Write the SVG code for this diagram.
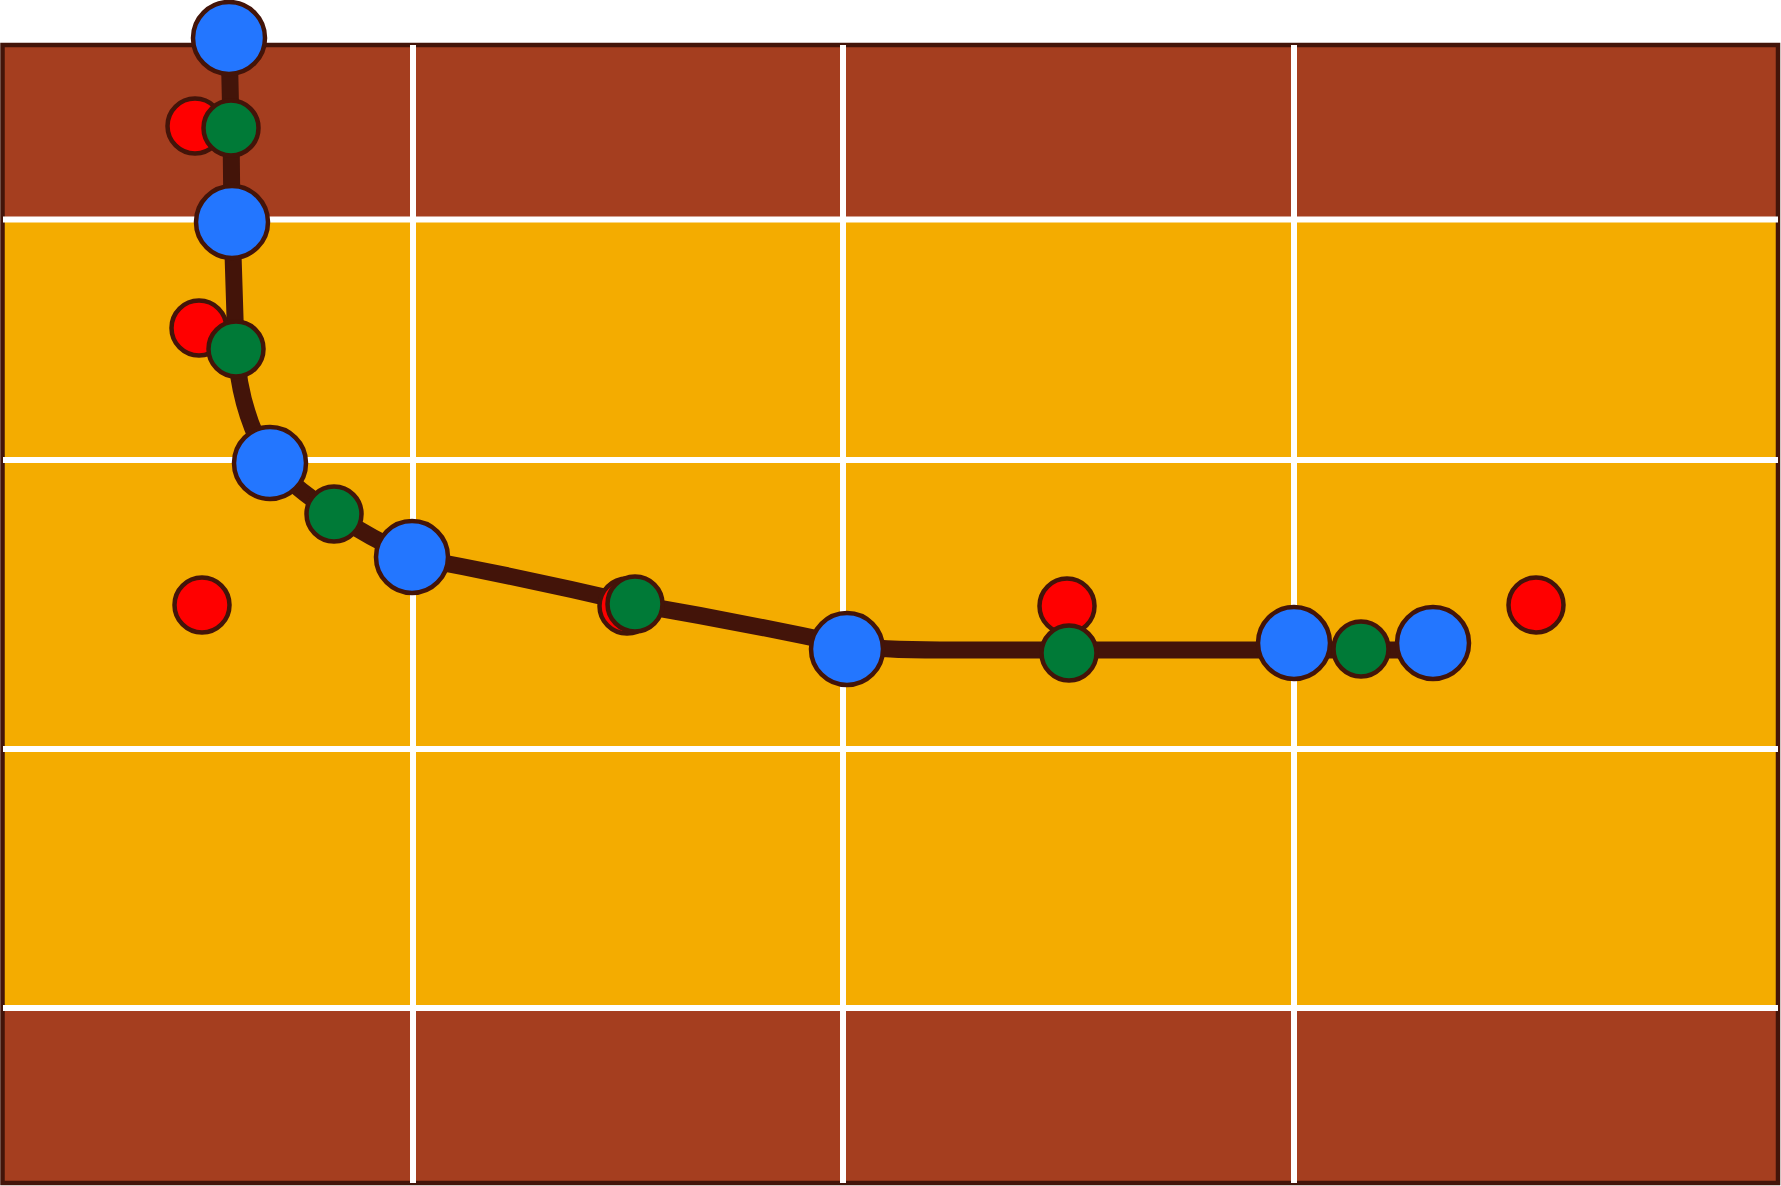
<svg xmlns="http://www.w3.org/2000/svg" width="1781" height="1186" viewBox="0 0 1781 1186">
<style>
.band-dark{fill:#A53E1F}
.band-light{fill:#F4AC00}
.grid{stroke:#FFFFFF;stroke-width:6;fill:none}
.frame{fill:none;stroke:#431409;stroke-width:4.5}
.conn{fill:none;stroke:#431409;stroke-width:17;stroke-linejoin:round;stroke-linecap:butt}
.blue{fill:#2376FF;stroke:#431409;stroke-width:4.5}
.green{fill:#007A37;stroke:#431409;stroke-width:4.5}
.red{fill:#FF0000;stroke:#431409;stroke-width:4.5}
</style>
<rect width="1781" height="1186" fill="#FFFFFF"/>
<g id="background">
<rect class="band-dark" x="3" y="45" width="1775" height="174"/>
<rect class="band-light" x="3" y="219" width="1775" height="789"/>
<rect class="band-dark" x="3" y="1008" width="1775" height="175"/>
<rect class="frame" x="2.5" y="45" width="1775.5" height="1138"/>
</g>
<g id="grid">
<line class="grid" x1="3" y1="219.5" x2="1778" y2="219.5"/>
<line class="grid" x1="3" y1="460" x2="1778" y2="460"/>
<line class="grid" x1="3" y1="749" x2="1778" y2="749"/>
<line class="grid" x1="3" y1="1008" x2="1778" y2="1008"/>
<line class="grid" x1="413" y1="45" x2="413" y2="1183"/>
<line class="grid" x1="843" y1="45" x2="843" y2="1183"/>
<line class="grid" x1="1294" y1="45" x2="1294" y2="1183"/>
</g>
<g id="connectors">
<path class="conn" d="M229,38 L231,128 L232,222 L236,349 C238,390 250,430 270,463 Q300,492 334,514 Q370,538 412,557 Q520,577 635,604 Q740,622 847,645 Q880,650 940,650 L1433,650"/>
</g>
<g id="node-r1"><circle class="red" cx="195" cy="126" r="27.5"/></g>
<g id="node-r2"><circle class="red" cx="199" cy="328" r="27.5"/></g>
<g id="node-r3"><circle class="red" cx="202" cy="605" r="27.5"/></g>
<g id="node-r4"><circle class="red" cx="627" cy="606" r="27.5"/></g>
<g id="node-r5"><circle class="red" cx="1067" cy="606" r="27.5"/></g>
<g id="node-r6"><circle class="red" cx="1536" cy="605" r="27.5"/></g>
<g id="node-b1"><circle class="blue" cx="229" cy="38" r="36"/></g>
<g id="node-b2"><circle class="blue" cx="232" cy="222" r="36"/></g>
<g id="node-b3"><circle class="blue" cx="270" cy="463" r="36"/></g>
<g id="node-b4"><circle class="blue" cx="412" cy="557" r="36"/></g>
<g id="node-b5"><circle class="blue" cx="847" cy="649" r="36"/></g>
<g id="node-b6"><circle class="blue" cx="1294" cy="643" r="36"/></g>
<g id="node-b7"><circle class="blue" cx="1433" cy="643" r="36"/></g>
<g id="node-g1"><circle class="green" cx="231" cy="128" r="27.5"/></g>
<g id="node-g2"><circle class="green" cx="236" cy="349" r="27.5"/></g>
<g id="node-g3"><circle class="green" cx="334" cy="514" r="27.5"/></g>
<g id="node-g4"><circle class="green" cx="635" cy="604" r="27.5"/></g>
<g id="node-g5"><circle class="green" cx="1069" cy="653" r="27.5"/></g>
<g id="node-g6"><circle class="green" cx="1361" cy="649" r="27.5"/></g>
</svg>
